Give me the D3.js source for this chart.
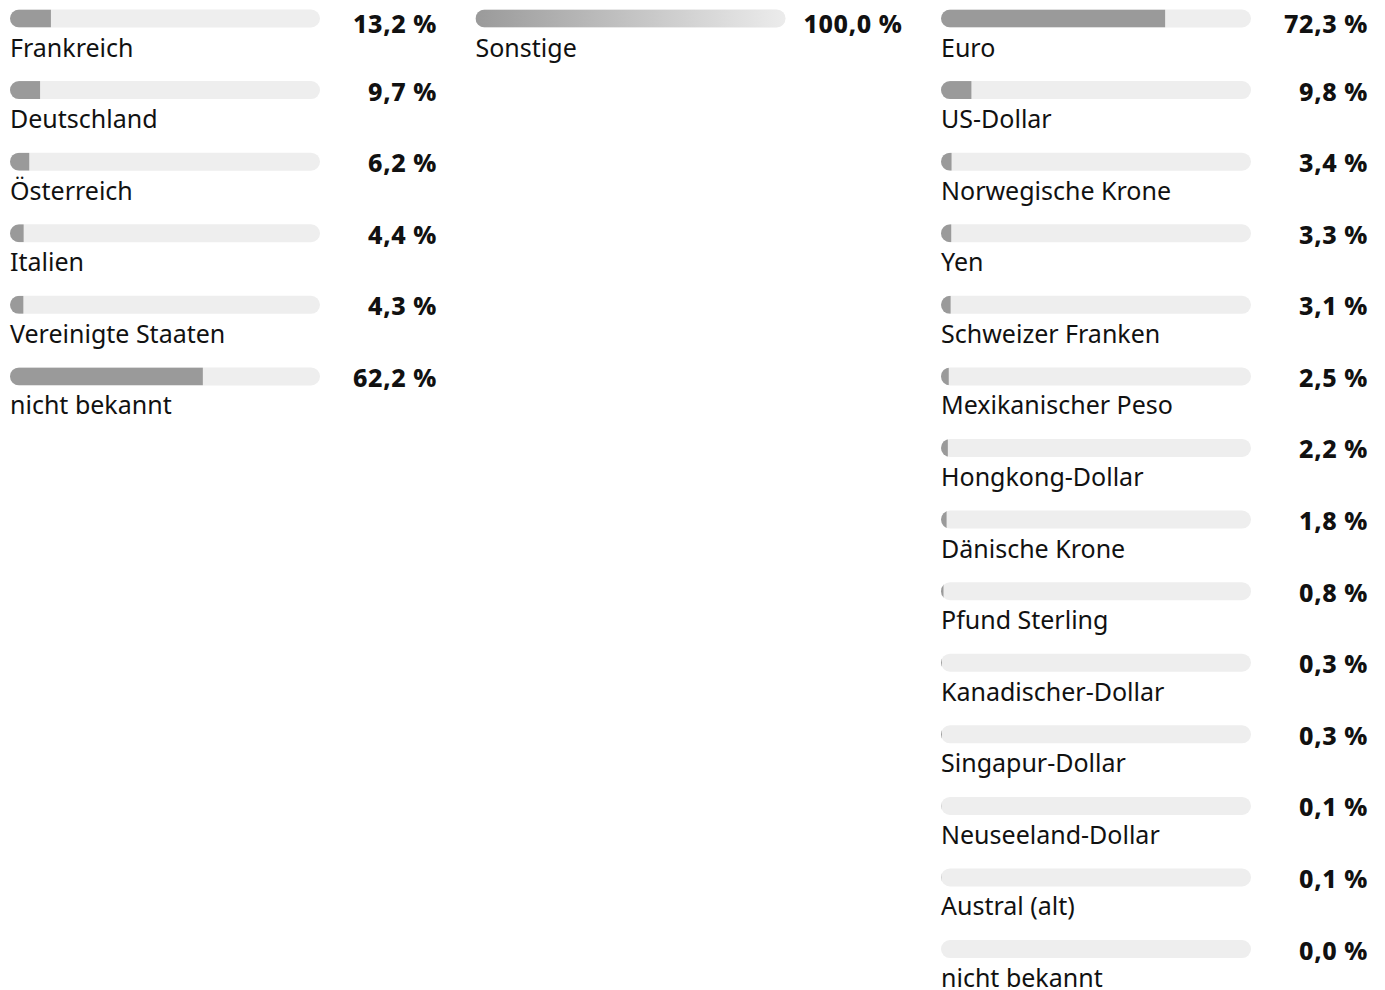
<!DOCTYPE html>
<html lang="de">
<head>
<meta charset="utf-8">
<script src="https://cdn.jsdelivr.net/npm/d3@7"></script>
<style>
  html, body { margin: 0; padding: 0; background: #fff; }
  svg { display: block; }
  .label { font-family: "Noto Sans", "Open Sans", sans-serif; font-size: 25px; fill: #111; }
  .value { font-family: "Noto Sans", "Open Sans", sans-serif; font-size: 25px; font-weight: 800; letter-spacing: 0.6px; fill: #111; }
</style>
</head>
<body>
<svg id="chart" width="1385" height="990"></svg>
<script>
// Country of issuer
const countryLabels = ["Frankreich", "Deutschland", "Österreich", "Italien", "Vereinigte Staaten", "nicht bekannt"];
const countryValues = [13.2, 9.7, 6.2, 4.4, 4.3, 62.2];

// Sector
const sectorLabels = ["Sonstige"];
const sectorValues = [100.0];

// Currency
const currencyLabels = ["Euro", "US-Dollar", "Norwegische Krone", "Yen", "Schweizer Franken",
  "Mexikanischer Peso", "Hongkong-Dollar", "Dänische Krone", "Pfund Sterling",
  "Kanadischer-Dollar", "Singapur-Dollar", "Neuseeland-Dollar", "Austral (alt)", "nicht bekannt"];
const currencyValues = [72.3, 9.8, 3.4, 3.3, 3.1, 2.5, 2.2, 1.8, 0.8, 0.3, 0.3, 0.1, 0.1, 0.0];

const groups = [
  { labels: countryLabels, values: countryValues },
  { labels: sectorLabels, values: sectorValues },
  { labels: currencyLabels, values: currencyValues }
];

const svg = d3.select("#chart");
const defs = svg.append("defs");

// a complete bar shades off into the track colour
const grad = defs.append("linearGradient").attr("id", "fullFill")
  .attr("x1", "0%").attr("x2", "100%").attr("y1", "0%").attr("y2", "0%");
grad.append("stop").attr("offset", "0%").attr("stop-color", "#9a9a9a");
grad.append("stop").attr("offset", "100%").attr("stop-color", "#ececec");

const colX = d3.scalePoint().domain([0, 1, 2]).range([10, 941]);
const barW = 310, barH = 18, rowStep = 71.58, firstRow = 9.5;
const x = d3.scaleLinear().domain([0, 100]).range([0, barW]);
const fmt = v => d3.format(".1f")(v).replace(".", ",") + " %";

groups.forEach((g, gi) => {
  const y = d3.scaleLinear().domain([0, 1]).range([firstRow, firstRow + rowStep]);
  const col = svg.append("g").attr("transform", `translate(${colX(gi)},0)`);
  const rows = col.selectAll("g.row")
    .data(g.values.map((v, i) => ({ v, label: g.labels[i], i })))
    .join("g").attr("class", "row")
    .attr("transform", d => `translate(0,${y(d.i)})`);

  // rounded track
  rows.append("rect").attr("width", barW).attr("height", barH).attr("rx", barH / 2)
    .attr("fill", "#eeeeee");

  // fill bar, clipped to the rounded track
  rows.each(function (d) {
    const r = d3.select(this);
    const cid = `clip-${gi}-${d.i}`;
    r.append("clipPath").attr("id", cid)
      .append("rect").attr("width", barW).attr("height", barH).attr("rx", barH / 2);
    r.append("rect").attr("width", x(d.v)).attr("height", barH)
      .attr("fill", d.v >= 100 ? "url(#fullFill)" : "#9a9a9a")
      .attr("clip-path", `url(#${cid})`);
  });

  // percentage, right-aligned; the top row sits a little lower
  rows.append("text").attr("class", "value")
    .attr("x", 427).attr("y", d => d.i === 0 ? 23.5 : 19.5).attr("text-anchor", "end")
    .text(d => fmt(d.v));

  rows.append("text").attr("class", "label")
    .attr("x", 0).attr("y", 47)
    .text(d => d.label);
});
</script>
</body>
</html>
